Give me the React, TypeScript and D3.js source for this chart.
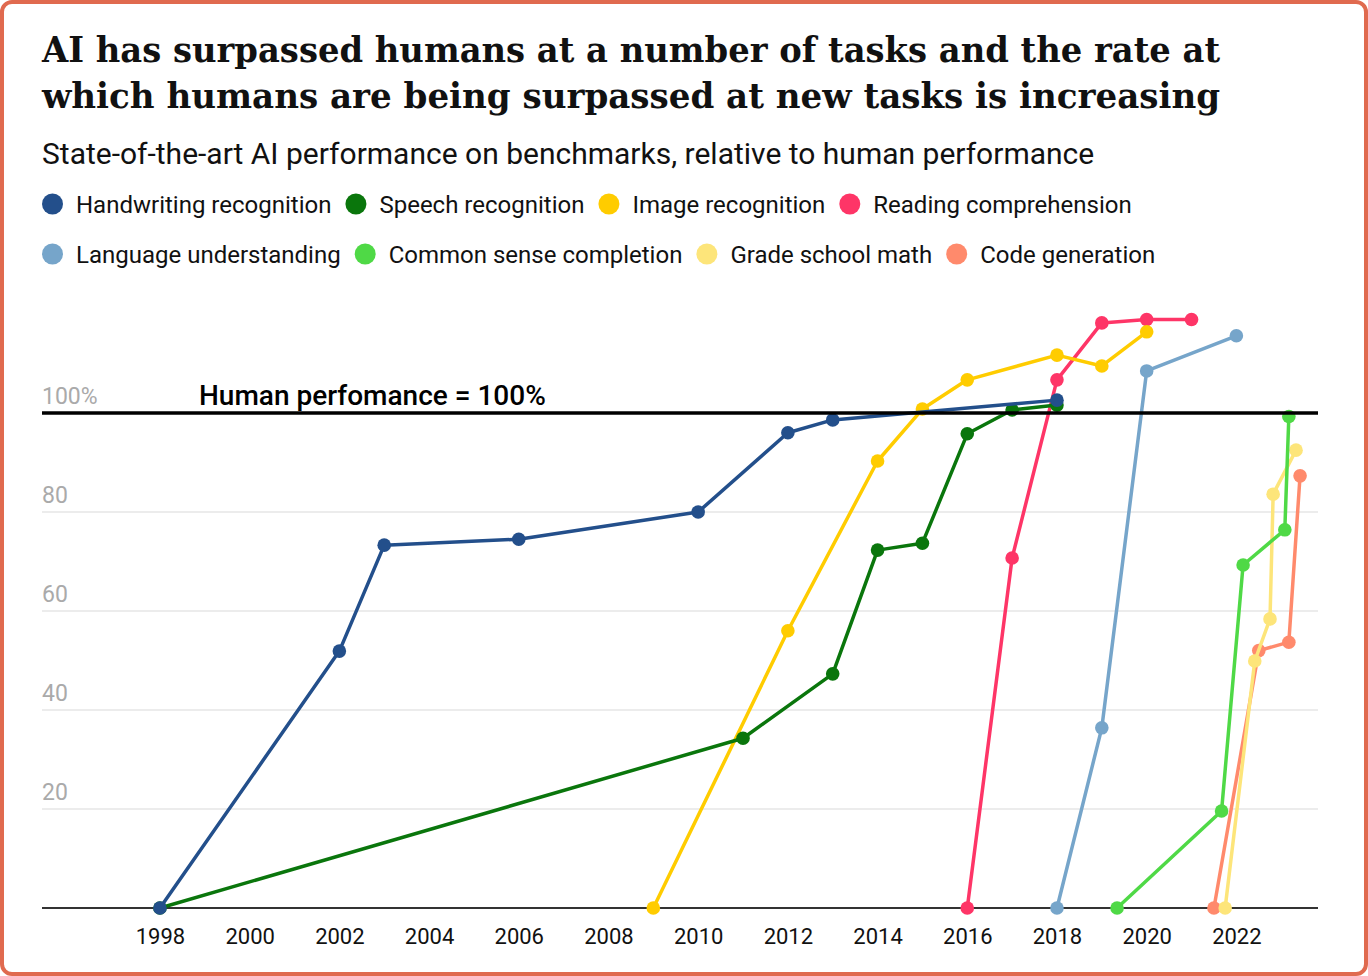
import * as d3 from "d3";
import { useEffect, useRef } from "react";

const W = 1368;
const H = 976;

// [year, % of human performance]
const handwriting = [
  [1998, 0], [2002, 51.9], [2003, 73.3], [2006, 74.5], [2010, 80],
  [2012, 96], [2013, 98.6], [2018, 102.6],
];
const speech = [
  [1998, 0], [2011, 34.3], [2013, 47.3], [2014, 72.3], [2015, 73.7],
  [2016, 95.8], [2017, 100.6], [2018, 101.6],
];
const image = [
  [2009, 0], [2012, 56], [2014, 90.3], [2015, 100.8], [2016, 106.7],
  [2018, 111.7], [2019, 109.5], [2020, 116.4],
];
const reading = [
  [2016, 0], [2017, 70.7], [2018, 106.7], [2019, 118.2], [2020, 118.9], [2021, 118.9],
];
const language = [
  [2018, 0], [2019, 36.4], [2020, 108.5], [2022, 115.6],
];
const commonSense = [
  [2019.34, 0], [2021.67, 19.6], [2022.15, 69.3], [2023.08, 76.4], [2023.17, 99.3],
];
const gradeMath = [
  [2021.75, 0], [2022.41, 49.9], [2022.75, 58.4], [2022.82, 83.6], [2023.33, 92.5],
];
const codeGen = [
  [2021.5, 0], [2022.5, 52], [2023.17, 53.7], [2023.42, 87.3],
];

const seriesNames = [
  "Handwriting recognition", "Speech recognition", "Image recognition", "Reading comprehension",
  "Language understanding", "Common sense completion", "Grade school math", "Code generation",
];
const seriesData = [handwriting, speech, image, reading, language, commonSense, gradeMath, codeGen];
const seriesColors = [
  "#234f8b", "#0a760c", "#ffcc00", "#fe3567",
  "#76a5ca", "#4fd946", "#fde57a", "#ff8a6c",
];

const xTicks = [1998, 2000, 2002, 2004, 2006, 2008, 2010, 2012, 2014, 2016, 2018, 2020, 2022];
const yTicks = [20, 40, 60, 80, 100];

const titleLines = [
  "AI has surpassed humans at a number of tasks and the rate at",
  "which humans are being surpassed at new tasks is increasing",
];
const subtitle = "State-of-the-art AI performance on benchmarks, relative to human performance";

const FONT = "Roboto, 'Noto Sans', sans-serif";

export default function App() {
  const ref = useRef<SVGSVGElement>(null);

  useEffect(() => {
    const svg = d3.select(ref.current);
    svg.selectAll("*").remove();

    svg.append("rect")
      .attr("x", 2).attr("y", 2)
      .attr("width", W - 4).attr("height", H - 4)
      .attr("rx", 10)
      .attr("fill", "#fff")
      .attr("stroke", "#e06a4f")
      .attr("stroke-width", 4);

    // title + subtitle
    svg.selectAll("text.title")
      .data(titleLines)
      .enter()
      .append("text")
      .attr("class", "title")
      .attr("x", 42)
      .attr("y", (_, i) => 62 + i * 46)
      .attr("textLength", 1178)
      .attr("lengthAdjust", "spacingAndGlyphs")
      .style("font-family", "'DejaVu Serif Condensed', 'DejaVu Serif', serif")
      .style("font-weight", "bold")
      .style("font-size", "36px")
      .attr("fill", "#111")
      .text((d) => d);

    svg.append("text")
      .attr("x", 42).attr("y", 164)
      .style("font-family", FONT)
      .style("font-size", "30px")
      .attr("fill", "#111")
      .text(subtitle);

    // legend
    const rows = [[0, 1, 2, 3], [4, 5, 6, 7]];
    rows.forEach((row, ri) => {
      let cursor = 42;
      const cy = 204 + ri * 50;
      row.forEach((i) => {
        svg.append("circle")
          .attr("cx", cursor + 10.5).attr("cy", cy).attr("r", 10.5)
          .attr("fill", seriesColors[i]);
        const t = svg.append("text")
          .attr("x", cursor + 34).attr("y", cy + 8.5)
          .style("font-family", FONT)
          .style("font-size", "24px")
          .attr("fill", "#111")
          .text(seriesNames[i]);
        const w = (t.node() as SVGTextElement).getComputedTextLength();
        cursor = cursor + 34 + w + 14;
      });
    });

    const x = d3.scaleLinear().domain([1995.37, 2023.82]).range([42, 1318]);
    const y = d3.scaleLinear().domain([0, 120]).range([908, 314]);
    const [x0, x1] = x.range();

    // grid
    const grid = svg.append("g");
    grid.selectAll("line")
      .data(yTicks.filter((d) => d !== 100))
      .enter()
      .append("line")
      .attr("x1", x0).attr("x2", x1)
      .attr("y1", (d) => y(d)).attr("y2", (d) => y(d))
      .attr("stroke", "#e6e6e6")
      .attr("stroke-width", 1.5);

    grid.selectAll("text")
      .data(yTicks)
      .enter()
      .append("text")
      .attr("x", x0)
      .attr("y", (d) => y(d) - 9)
      .style("font-family", FONT)
      .style("font-size", "23px")
      .attr("fill", "#aaaaaa")
      .text((d) => (d === 100 ? "100%" : String(d)));

    // baseline
    svg.append("line")
      .attr("x1", x0).attr("x2", x1)
      .attr("y1", y(0)).attr("y2", y(0))
      .attr("stroke", "#333")
      .attr("stroke-width", 2);

    // x axis
    const xAxis = svg.append("g")
      .attr("transform", `translate(0,${y(0)})`)
      .call(d3.axisBottom(x).tickValues(xTicks).tickFormat(d3.format("d")).tickSize(0).tickPadding(20));
    xAxis.select(".domain").remove();
    xAxis.selectAll("text")
      .style("font-family", FONT)
      .style("font-size", "22px")
      .attr("fill", "#111");

    // lines, first series on top
    const line = d3.line<number[]>().x((d) => x(d[0])).y((d) => y(d[1]));
    const order = d3.range(seriesData.length).reverse();
    order.forEach((i) => {
      const g = svg.append("g");
      g.append("path")
        .datum(seriesData[i])
        .attr("d", line)
        .attr("fill", "none")
        .attr("stroke", seriesColors[i])
        .attr("stroke-width", 3.5)
        .attr("stroke-linejoin", "round");
      g.selectAll("circle")
        .data(seriesData[i])
        .enter()
        .append("circle")
        .attr("cx", (d) => x(d[0]))
        .attr("cy", (d) => y(d[1]))
        .attr("r", 6.8)
        .attr("fill", seriesColors[i]);
    });

    // human performance line
    svg.append("line")
      .attr("x1", x0).attr("x2", x1)
      .attr("y1", y(100)).attr("y2", y(100))
      .attr("stroke", "#000")
      .attr("stroke-width", 3.5);

    svg.append("text")
      .attr("x", x(1998.87)).attr("y", y(100) - 8)
      .style("font-family", FONT)
      .style("font-size", "28px")
      .style("font-weight", 500)
      .attr("fill", "#000")
      .text("Human perfomance = 100%");
  }, []);

  return (
    <div style={{ position: "absolute", left: 0, top: 0 }}>
      <svg ref={ref} width={W} height={H} />
    </div>
  );
}
